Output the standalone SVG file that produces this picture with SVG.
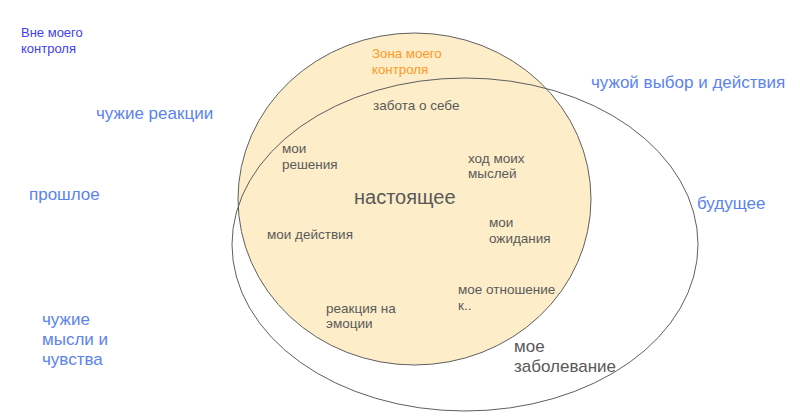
<svg xmlns="http://www.w3.org/2000/svg" width="800" height="417" viewBox="0 0 800 417">
<style>
text { font-family: "Liberation Sans", Arial, sans-serif; }
.in { font-size: 13.5px; fill: #5a5a5a; }
.big { font-size: 17px; fill: #595959; }
.out { font-size: 17px; fill: #5b83f0; }
.area { stroke: #5f5f5f; stroke-width: 1; }
</style>
<rect width="800" height="417" fill="#ffffff"/>
<g id="zone-control">
  <ellipse class="area" cx="414.5" cy="199" rx="176.5" ry="166" fill="#fdedc9"/>
</g>
<g id="zone-body">
  <ellipse class="area" cx="465" cy="244.5" rx="233" ry="166.5" fill="none"/>
</g>
<g id="label-outside">
  <text x="21" y="37" style="font-size:13px;fill:#4040f2">Вне моего</text>
  <text x="21" y="53" style="font-size:13px;fill:#4040f2">контроля</text>
</g>
<g id="label-zone">
  <text x="372" y="58" style="font-size:13.3px;fill:#ff9a26">Зона моего</text>
  <text x="372" y="74" style="font-size:13.3px;fill:#ff9a26">контроля</text>
</g>
<g id="n-care"><text class="in" x="373" y="110">забота о себе</text></g>
<g id="n-decisions"><text class="in" x="282" y="153">мои</text><text class="in" x="282" y="169">решения</text></g>
<g id="n-thoughts"><text class="in" x="468" y="163">ход моих</text><text class="in" x="468" y="178">мыслей</text></g>
<g id="n-present"><text x="354" y="204" style="font-size:20px;fill:#595959">настоящее</text></g>
<g id="n-actions"><text class="in" x="267" y="239">мои действия</text></g>
<g id="n-expect"><text class="in" x="489" y="227">мои</text><text class="in" x="489" y="243">ожидания</text></g>
<g id="n-attitude"><text class="in" x="458" y="294">мое отношение</text><text class="in" x="458" y="310">к..</text></g>
<g id="n-emotions"><text class="in" x="326" y="313">реакция на</text><text class="in" x="326" y="328">эмоции</text></g>
<g id="n-illness"><text class="big" x="514" y="352">мое</text><text class="big" x="514" y="372">заболевание</text></g>
<g id="n-reactions"><text class="out" x="96" y="119">чужие реакции</text></g>
<g id="n-choice"><text class="out" x="591" y="88">чужой выбор и действия</text></g>
<g id="n-past"><text class="out" x="29" y="200">прошлое</text></g>
<g id="n-future"><text class="out" x="697" y="209">будущее</text></g>
<g id="n-feelings"><text class="out" x="42" y="325">чужие</text><text class="out" x="42" y="345">мысли и</text><text class="out" x="42" y="365">чувства</text></g>
</svg>
